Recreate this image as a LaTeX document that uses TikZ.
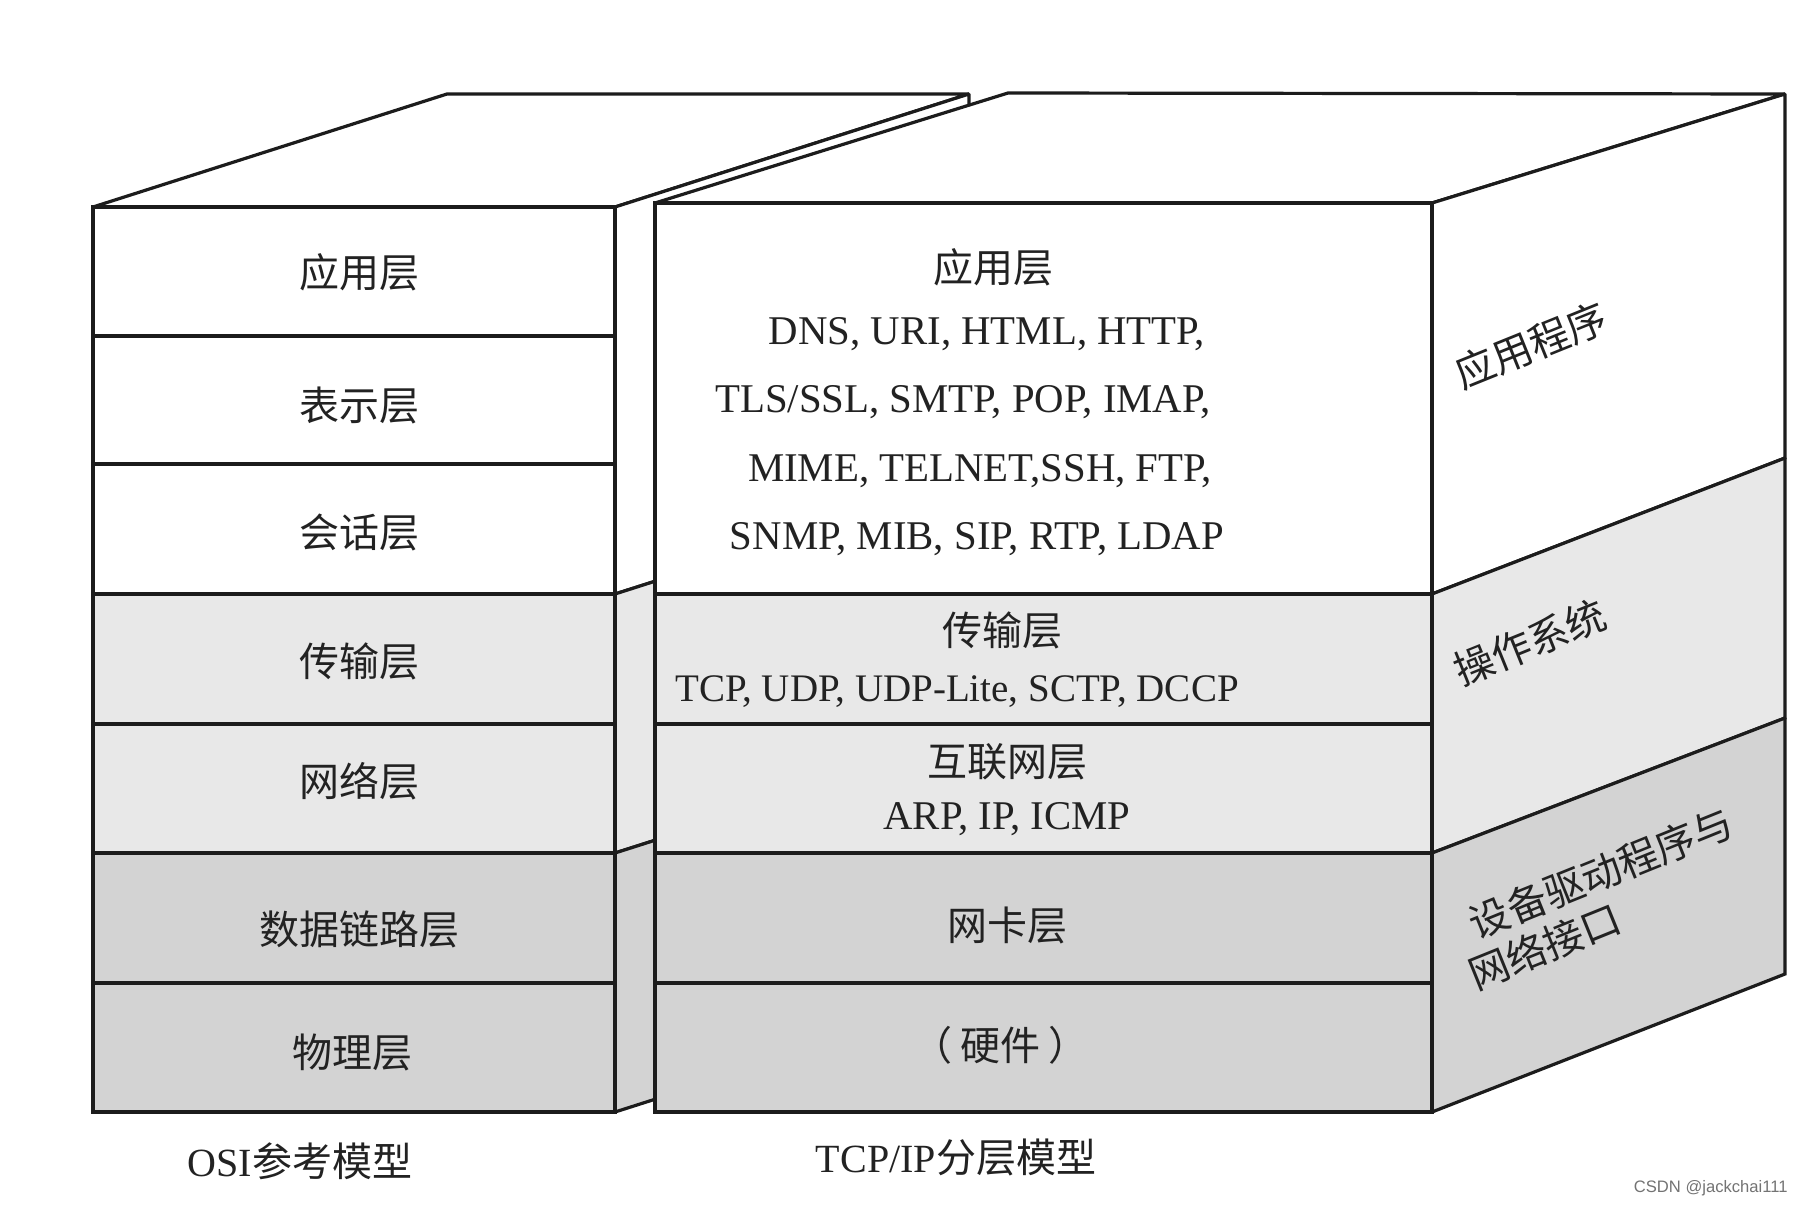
\documentclass[tikz,border=0pt]{standalone}
\usepackage{fontspec}
\setmainfont{Liberation Serif}
\newfontfamily\cjk{Noto Sans CJK SC}
\newfontfamily\wmfont{Liberation Sans}
\definecolor{lg}{HTML}{E8E8E8}
\definecolor{dg}{HTML}{D3D3D3}
\definecolor{ln}{HTML}{1C1C1C}
\definecolor{tx}{HTML}{222222}
\begin{document}
\begin{tikzpicture}[x=0.5pt,y=-0.5pt,
  facebox/.style={draw=ln, line width=1.6pt, line join=miter, miter limit=1.5},
  cnlabel/.style={font=\cjk\fontsize{20}{24}\selectfont, text=tx, inner sep=0pt},
  enlabel/.style={font=\fontsize{20.4}{24}\selectfont, text=tx, inner sep=0pt},
  sidelabel/.style={cnlabel, rotate=22},
  captext/.style={font=\fontsize{20}{24}\selectfont, text=tx, inner sep=0pt}]
\fill[white] (0,0) rectangle (1802,1208);
\useasboundingbox (0,0) rectangle (1802,1208);

% ---------- OSI box ----------
\filldraw[facebox, fill=white] (93,207) -- (447,94) -- (969,94) -- (615,207) -- cycle;
\foreach \a/\b/\c in {207/594/white, 594/853/lg, 853/1112/dg}{
  \filldraw[facebox, fill=\c] (615,\a) -- (969,\a-113) -- (969,\b-113) -- (615,\b) -- cycle;
}
\foreach \a/\b/\c in {207/336/white, 336/464/white, 464/594/white, 594/724/lg, 724/853/lg, 853/983/dg, 983/1112/dg}{
  \filldraw[facebox, fill=\c] (93,\a) rectangle (615,\b);
}

% ---------- TCP/IP box ----------
\filldraw[facebox, fill=white] (655,203) -- (1008,93) -- (1785,94) -- (1432,203) -- cycle;
\filldraw[facebox, fill=white] (1432,203) -- (1785,94) -- (1785,458) -- (1432,594) -- cycle;
\filldraw[facebox, fill=lg] (1432,594) -- (1785,458) -- (1785,718) -- (1432,853) -- cycle;
\filldraw[facebox, fill=dg] (1432,853) -- (1785,718) -- (1785,974) -- (1432,1112) -- cycle;
\foreach \a/\b/\c in {203/594/white, 594/724/lg, 724/853/lg, 853/983/dg, 983/1112/dg}{
  \filldraw[facebox, fill=\c] (655,\a) rectangle (1432,\b);
}

% ---------- OSI labels ----------
\node[cnlabel] (o1) at (359,272) {应用层};
\node[cnlabel] (o2) at (359,405) {表示层};
\node[cnlabel] (o3) at (359,532) {会话层};
\node[cnlabel] (o4) at (359,661) {传输层};
\node[cnlabel] (o5) at (359,781) {网络层};
\node[cnlabel] (o6) at (359,929) {数据链路层};
\node[cnlabel] (o7) at (352,1052) {物理层};

% ---------- TCP/IP labels ----------
\node[cnlabel] (t1) at (993,267) {应用层};
\node[enlabel] (t2) at (987,334) {DNS, URI, HTML, HTTP,};
\node[enlabel] (t3) at (963,402) {TLS/SSL, SMTP, POP, IMAP,};
\node[enlabel] (t4) at (980,471) {MIME, TELNET,SSH, FTP,};
\node[enlabel] (t5) at (977,539) {SNMP, MIB, SIP, RTP, LDAP};
\node[cnlabel] (t6) at (1002,630) {传输层};
\node[enlabel, font=\fontsize{19.5}{24}\selectfont] (t7) at (957,692) {TCP, UDP, UDP-Lite, SCTP, DCCP};
\node[cnlabel] (t8) at (1007,762) {互联网层};
\node[enlabel] (t9) at (1007,819) {ARP, IP, ICMP};
\node[cnlabel] (t10) at (1007,925) {网卡层};
\node[cnlabel] (t11) at (1000,1045) {（\hspace{4pt}硬件\hspace{4pt}）};

% ---------- side labels ----------
\node[sidelabel] (s1) at (1531,345) {应用程序};
\node[sidelabel] (s2) at (1530,642) {操作系统};
\node[sidelabel] (s3) at (1601,873) {设备驱动程序与};
\node[sidelabel] (s4) at (1545,946) {网络接口};

% ---------- captions ----------
\node[captext] (c1) at (300,1161) {OSI{\cjk 参考模型}};
\node[captext] (c2) at (956,1157) {TCP/IP{\cjk 分层模型}};
\node[font=\wmfont\fontsize{8.3}{10}\selectfont, text=black!55, inner sep=0pt, anchor=east] (wm) at (1788,1188) {CSDN @jackchai111};
\end{tikzpicture}
\end{document}
